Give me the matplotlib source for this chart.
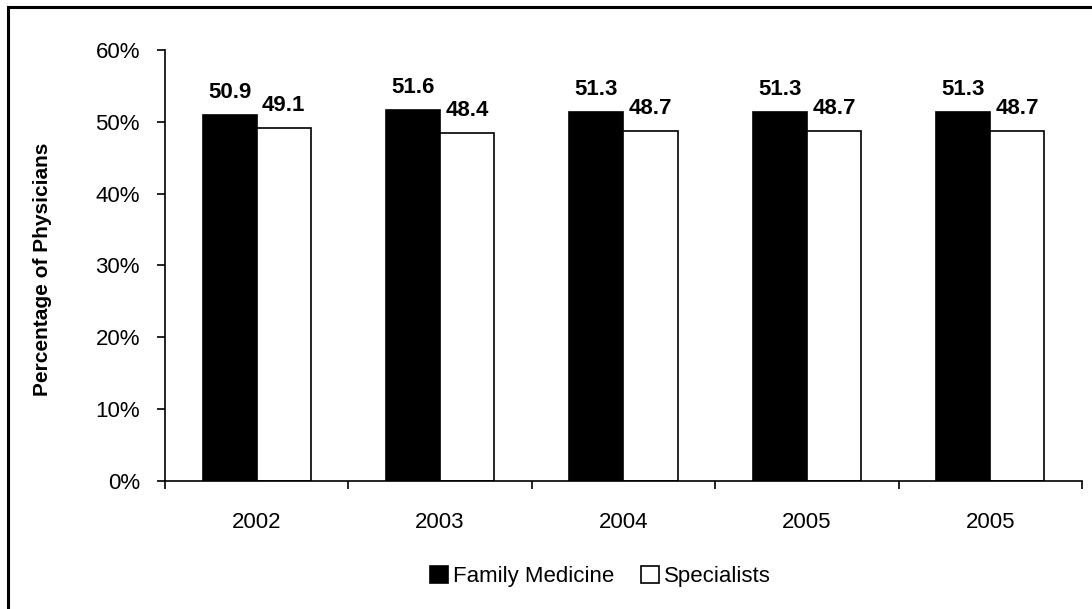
import numpy as np
import matplotlib
matplotlib.use("Agg")
import matplotlib.pyplot as plt
from matplotlib.patches import Rectangle

plt.rcParams['font.family'] = ['Liberation Sans', 'DejaVu Sans']

years = ["2002", "2003", "2004", "2005", "2005"]
family_medicine = [50.9, 51.6, 51.3, 51.3, 51.3]
specialists = [49.1, 48.4, 48.7, 48.7, 48.7]

fig = plt.figure(figsize=(10.92, 6.09), dpi=100)
ax = fig.add_axes([0.1511, 0.2102, 0.8397, 0.7077])

# border round the whole chart area
fig.patches.append(Rectangle((8 / 1092, -0.05), 1.1, 1 - 7 / 609 + 0.05,
                             transform=fig.transFigure, fill=False,
                             edgecolor='black', linewidth=2.2, zorder=0))

x = np.arange(len(years))
w = 0.295
b1 = ax.bar(x - w / 2, family_medicine, w, color='black', edgecolor='black',
            linewidth=1.2, label='Family Medicine')
b2 = ax.bar(x + w / 2, specialists, w, color='white', edgecolor='black',
            linewidth=1.2, label='Specialists')

for bars, vals in [(b1, family_medicine), (b2, specialists)]:
    for r, v in zip(bars, vals):
        ax.annotate(f"{v:.1f}", (r.get_x() + r.get_width() / 2, v),
                    xytext=(0, 9), textcoords='offset points',
                    ha='center', va='bottom', fontsize=16, fontweight='bold')

ax.set_xlim(-0.5, len(years) - 0.5)
ax.set_ylim(0, 60)
ax.set_yticks(range(0, 61, 10))
ax.set_yticklabels([f"{t}%" for t in range(0, 61, 10)])
ax.set_xticks(x)
ax.set_xticklabels(years)
ax.set_xticks(np.arange(-0.5, len(years), 1), minor=True)
ax.tick_params(axis='x', which='major', length=0, pad=22, labelsize=16)
ax.tick_params(axis='x', which='minor', length=6, width=1.2, direction='out')
ax.tick_params(axis='y', length=6, width=1.2, labelsize=16, pad=12)
for s in ['top', 'right']:
    ax.spines[s].set_visible(False)
for s in ['left', 'bottom']:
    ax.spines[s].set_linewidth(1.2)

ax.set_ylabel("Percentage of Physicians", fontsize=15, fontweight='bold')
ax.yaxis.set_label_coords(-0.123, 0.49)

fig.legend(handles=[b1, b2], loc='center', bbox_to_anchor=(0.55, 0.054),
           ncol=2, frameon=False, fontsize=16, handlelength=0.8,
           handleheight=0.8, columnspacing=1.2, handletextpad=0.25)

fig.savefig("out.png", dpi=100)
